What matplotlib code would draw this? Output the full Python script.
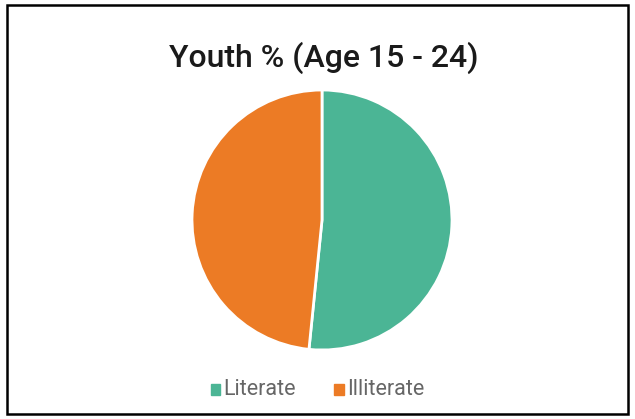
import matplotlib.pyplot as plt
from matplotlib.patches import Rectangle

labels = ["Literate", "Illiterate"]
values = [51.6, 48.4]
colors = ["#4bb595", "#ec7b25"]
title = "Youth % (Age 15 - 24)"

W, H = 635, 419
fig = plt.figure(figsize=(W / 100, H / 100), dpi=100)
fig.patch.set_facecolor("white")

# outer black frame
fig.patches.append(Rectangle((7 / W, 5 / H), 621 / W, 409 / H, transform=fig.transFigure,
                             fill=False, edgecolor="black", linewidth=1.8))

ax = fig.add_axes([192 / W, 69 / H, 260 / W, 260 / H])
ax.pie(values, colors=colors, startangle=90, counterclock=False,
       wedgeprops=dict(edgecolor="white", linewidth=2))
ax.set_xlim(-1.0, 1.0)
ax.set_ylim(-1.0, 1.0)
ax.set_aspect("auto")

fam = ["Roboto", "DejaVu Sans"]
fig.text(324 / W, 1 - 58 / H, title, ha="center", va="center", fontsize=23,
         family=fam, weight="medium", color="#1a1a1a")

# legend
fig.patches.append(Rectangle((211 / W, 1 - 395 / H), 9 / W, 11 / H, transform=fig.transFigure,
                             color=colors[0]))
fig.text(223 / W, 1 - 389 / H, labels[0], ha="left", va="center", fontsize=15.5,
         family=fam, color="#666666")
fig.patches.append(Rectangle((334 / W, 1 - 395 / H), 10 / W, 11 / H, transform=fig.transFigure,
                             color=colors[1]))
fig.text(347 / W, 1 - 389 / H, labels[1], ha="left", va="center", fontsize=15.5,
         family=fam, color="#666666")

fig.savefig("out.png", dpi=100)
